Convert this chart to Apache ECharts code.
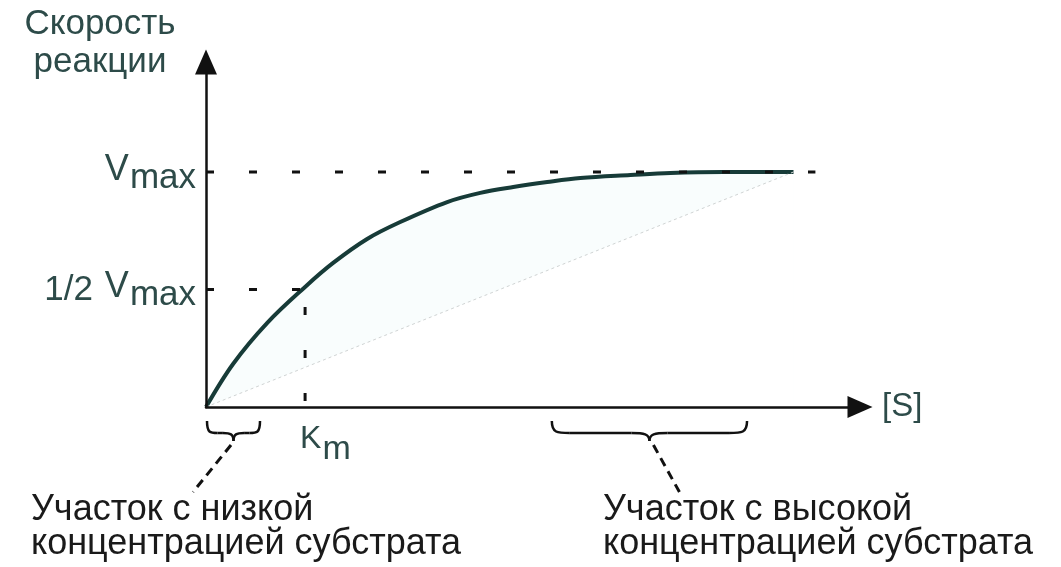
<!DOCTYPE html>
<html>
<head>
<meta charset="utf-8">
<script src="https://cdn.jsdelivr.net/npm/echarts@6/dist/echarts.min.js"></script>
<style>
html,body{margin:0;padding:0;background:#fff;}
#main{width:1061px;height:567px;}
</style>
</head>
<body>
<div id="main"></div>
<script>
// ---- data ----
const substrate = [0, 0.273, 0.616, 1.0, 1.283, 1.626, 1.96, 2.434, 2.768, 3.101, 3.444, 3.778, 4.283, 4.687, 5.222, 5.929];
const rate      = [0, 0.183, 0.357, 0.511, 0.613, 0.715, 0.787, 0.872, 0.911, 0.936, 0.957, 0.974, 0.987, 0.996, 1.0, 1.0];
const VMAX = 1;
const KM = 1;
const vmaxGuideEnd = 6.15;
const xAxisMax = 6.6;
const yAxisMax = 1.468;
const lowRange = [0, 0.545];
const highRange = [3.49, 5.46];
const yTickLabels = { '0.5': '{f|1/2}{v|V}{m|max}', '1': '{v|V}{m|max}' };
const xAxisName = '[S]';
const yAxisTitle = 'Скорость\nреакции';
const kmLabel = ['K', 'm'];
const lowText = 'Участок с низкой\nконцентрацией субстрата';
const highText = 'Участок с высокой\nконцентрацией субстрата';

const FONT = "'Liberation Sans', Arial, Helvetica, sans-serif";
const TEAL = '#2d4b49';
const CURVE = '#173b38';
const INK = '#111';

const chart = echarts.init(document.getElementById('main'));
const pts = substrate.map((s, i) => [s, rate[i]]);
const dotStyle = { color: INK, width: 3, type: [8, 35] };

chart.setOption({
  animation: false,
  backgroundColor: '#fff',
  grid: { left: 206, right: 201, top: 62, bottom: 160, containLabel: false, outerBoundsMode: 'none' },
  xAxis: {
    type: 'value', min: 0, max: xAxisMax, interval: 1, z: 10,
    name: xAxisName, nameLocation: 'end', nameGap: 22,
    nameTextStyle: { fontFamily: FONT, fontSize: 33, color: TEAL, verticalAlign: 'middle', align: 'left' },
    axisLine: { show: true, symbol: ['none', 'triangle'], symbolSize: [22, 25], lineStyle: { color: INK, width: 2.5 } },
    axisTick: { show: false }, axisLabel: { show: false }, splitLine: { show: false }
  },
  yAxis: {
    type: 'value', min: 0, max: yAxisMax, interval: 0.5, z: 10,
    axisLine: { show: true, symbol: ['none', 'triangle'], symbolSize: [22, 25], lineStyle: { color: INK, width: 2.5 } },
    axisTick: { show: false }, splitLine: { show: false },
    axisLabel: {
      show: true, margin: 10,
      formatter: v => yTickLabels[String(v)] || '',
      rich: {
        f: { fontFamily: FONT, fontSize: 35, color: TEAL, padding: [2, 12, 0, 0] },
        v: { fontFamily: FONT, fontSize: 36, color: TEAL, padding: [0, 1, 4, 0] },
        m: { fontFamily: FONT, fontSize: 35, color: TEAL, padding: [12, 0, 0, 0] }
      }
    }
  },
  series: [
    { type: 'line', data: pts, smooth: 0.35, showSymbol: false, z: 3,
      lineStyle: { color: CURVE, width: 4 }, areaStyle: { color: '#f6fcfc', origin: 'start' } },
    { type: 'line', data: [[0, 0], [substrate[substrate.length - 1], VMAX]], showSymbol: false, z: 3,
      lineStyle: { color: '#cfd3d3', width: 1, type: [3, 3] }, areaStyle: { color: '#ffffff', opacity: 1, origin: 'start' } },
    { type: 'line', data: [[0, VMAX], [vmaxGuideEnd, VMAX]], showSymbol: false, z: 4, lineStyle: dotStyle },
    { type: 'line', data: [[0, VMAX / 2], [KM, VMAX / 2]], showSymbol: false, z: 4, lineStyle: dotStyle },
    { type: 'line', data: [[KM, 0], [KM, VMAX / 2]], showSymbol: false, z: 4,
      lineStyle: { color: INK, width: 3, type: [8, 35], dashOffset: 37 } }
  ]
});

function px(x, y) { return chart.convertToPixel({ gridIndex: 0 }, [x, y]); }
const braceStyle = { stroke: INK, lineWidth: 2.5, fill: null };
function brace(x1, x2, y, h) {
  const mid = (x1 + x2) / 2, ym = y + h * 0.6, r = Math.min(h * 0.9, (x2 - x1) / 5);
  return [
    { type: 'bezierCurve', shape: { x1: x1, y1: y, cpx1: x1, cpy1: ym, cpx2: x1 + r * 0.3, cpy2: ym, x2: x1 + r, y2: ym }, style: braceStyle },
    { type: 'line', shape: { x1: x1 + r, y1: ym, x2: mid - r, y2: ym }, style: braceStyle },
    { type: 'bezierCurve', shape: { x1: mid - r, y1: ym, cpx1: mid - r * 0.3, cpy1: ym, cpx2: mid, cpy2: ym + 1, x2: mid, y2: y + h }, style: braceStyle },
    { type: 'bezierCurve', shape: { x1: mid, y1: y + h, cpx1: mid, cpy1: ym + 1, cpx2: mid + r * 0.3, cpy2: ym, x2: mid + r, y2: ym }, style: braceStyle },
    { type: 'line', shape: { x1: mid + r, y1: ym, x2: x2 - r, y2: ym }, style: braceStyle },
    { type: 'bezierCurve', shape: { x1: x2 - r, y1: ym, cpx1: x2 - r * 0.3, cpy1: ym, cpx2: x2, cpy2: ym, x2: x2, y2: y }, style: braceStyle }
  ];
}

const o = px(0, 0);
const lowA = px(lowRange[0], 0), lowB = px(lowRange[1], 0);
const highA = px(highRange[0], 0), highB = px(highRange[1], 0);
const km = px(KM, 0);
const braceTop = o[1] + 14, braceH = 20;
const lowMid = (lowA[0] + lowB[0]) / 2, highMid = (highA[0] + highB[0]) / 2;

chart.setOption({
  graphic: [
    { type: 'text', x: 100, y: 5, style: { text: yAxisTitle, font: '35px ' + FONT, fill: TEAL, lineHeight: 38, align: 'center', verticalAlign: 'top' } },
    ...brace(lowA[0] + 1, lowB[0], braceTop, braceH),
    ...brace(highA[0], highB[0], braceTop, braceH),
    { type: 'line', shape: { x1: lowMid - 2, y1: braceTop + braceH + 4, x2: lowMid - 40, y2: 492 }, style: { stroke: INK, lineWidth: 3, lineDash: [9, 6] } },
    { type: 'line', shape: { x1: highMid + 4, y1: braceTop + braceH + 4, x2: highMid + 30, y2: 492 }, style: { stroke: INK, lineWidth: 3, lineDash: [9, 6] } },
    { type: 'text', x: 31, y: 493, style: { text: lowText, font: '36px ' + FONT, fill: '#1a1a1a', lineHeight: 34, verticalAlign: 'top' } },
    { type: 'text', x: 603, y: 493, style: { text: highText, font: '36px ' + FONT, fill: '#1a1a1a', lineHeight: 34, verticalAlign: 'top' } },
    { type: 'text', x: km[0] - 5, y: o[1] + 12, style: {
        text: '{k|' + kmLabel[0] + '}{m|' + kmLabel[1] + '}', verticalAlign: 'top',
        rich: { k: { font: '32px ' + FONT, fill: TEAL, padding: [0, 1, 8, 0] }, m: { font: '34px ' + FONT, fill: TEAL, padding: [14, 0, 0, 0] } } } }
  ]
});
</script>
</body>
</html>
